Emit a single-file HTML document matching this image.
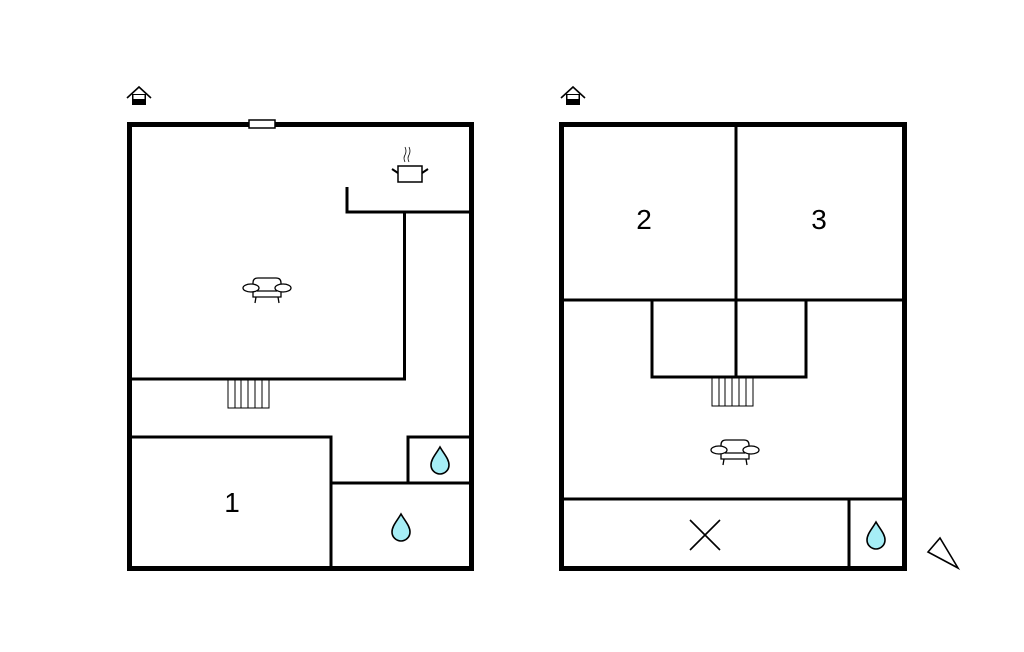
<!DOCTYPE html>
<html><head><style>body{margin:0;background:#fff}svg{display:block}</style></head><body>
<svg width="1024" height="652" viewBox="0 0 1024 652" xmlns="http://www.w3.org/2000/svg" font-family="Liberation Sans, sans-serif">
<defs>
<g id="home"><path d="M-12,3 L0,-8 L12,3" fill="none" stroke="#000" stroke-width="1.6"/><rect x="-7" y="-1" width="14" height="11" fill="#000"/><rect x="-5.5" y="0" width="11" height="4" fill="#fff"/></g>
<g id="sofa" fill="#fff" stroke="#000" stroke-width="1.3"><path d="M-14,-7 Q-14,-12 -9,-12 L9,-12 Q14,-12 14,-7 L14,7 L-14,7 Z"/><line x1="-10" y1="1" x2="10" y2="1"/><ellipse cx="-16" cy="-2" rx="8" ry="4"/><ellipse cx="16" cy="-2" rx="8" ry="4"/><line x1="-11" y1="7" x2="-12" y2="13"/><line x1="11" y1="7" x2="12" y2="13"/></g>
<path id="drop" d="M0,-15 C4,-8 9,-3 9,3 A9,9 0 0 1 -9,3 C-9,-3 -4,-8 0,-15 Z" fill="#a6eef6" stroke="#000" stroke-width="1.6"/>
<g id="stairs" fill="#fff" stroke="#000" stroke-width="1"><rect x="0" y="0" width="41" height="28"/><line x1="7" y1="0" x2="7" y2="28"/><line x1="13" y1="0" x2="13" y2="28"/><line x1="20" y1="0" x2="20" y2="28"/><line x1="27" y1="0" x2="27" y2="28"/><line x1="34" y1="0" x2="34" y2="28"/></g>
</defs>
<g fill="none" stroke="#000">
<rect x="129.5" y="124.5" width="342" height="444" stroke-width="5"/>
<g stroke-width="3">
<polyline points="347,187 347,212 471,212"/>
<polyline points="130,379 404.5,379 404.5,212"/>
<polyline points="130,437 331,437 331,568"/>
<polyline points="331,483 471,483"/>
<polyline points="408,483 408,437 471,437"/>
</g>
<rect x="561.5" y="124.5" width="343" height="444" stroke-width="5"/>
<g stroke-width="3">
<line x1="736" y1="124" x2="736" y2="377"/>
<line x1="561" y1="300" x2="904" y2="300"/>
<polyline points="652,300 652,377 806,377 806,300"/>
<line x1="561" y1="499" x2="904" y2="499"/>
<line x1="849" y1="499" x2="849" y2="568"/>
</g>
</g>
<rect x="249" y="120" width="26" height="8" fill="#fff" stroke="#000" stroke-width="1.5"/>
<use href="#home" x="139" y="95"/>
<use href="#home" x="573" y="95"/>
<use href="#sofa" x="267" y="290"/>
<use href="#sofa" x="735" y="452"/>
<use href="#stairs" x="228" y="380"/>
<use href="#stairs" x="712" y="378"/>
<use href="#drop" x="440" y="462"/>
<use href="#drop" x="401" y="529"/>
<use href="#drop" x="876" y="537"/>
<g fill="none" stroke="#000">
<rect x="398" y="166" width="24" height="16" stroke-width="1.5"/>
<line x1="392" y1="169" x2="398" y2="173" stroke-width="2"/><line x1="428" y1="169" x2="422" y2="173" stroke-width="2"/>
<path d="M405,162 q-2,-4 0,-7 q2,-4 0,-8 M409,162 q-2,-4 0,-7 q2,-4 0,-8" stroke-width="0.8"/>
<path d="M690,520 L720,550 M720,520 L690,550" stroke-width="1.6"/>
<polygon points="928,552 940,538 958,568" stroke-width="1.6"/>
</g>
<g font-size="28" text-anchor="middle" fill="#000">
<text x="232" y="512">1</text>
<text x="644" y="229">2</text>
<text x="819" y="229">3</text>
</g>
</svg>
</body></html>
